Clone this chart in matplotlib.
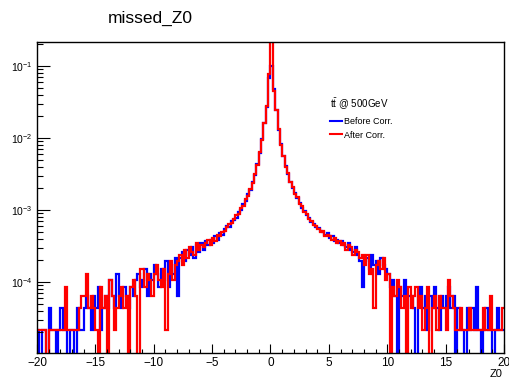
#!/usr/bin/env python3
"""missed_Z0: Z0 distribution before / after correction (log scale)."""

import numpy as np
import matplotlib
matplotlib.use("Agg")
import matplotlib.pyplot as plt
from matplotlib.lines import Line2D

plt.rcParams["font.family"] = ["Liberation Sans", "DejaVu Sans"]
plt.rcParams["mathtext.default"] = "regular"

# 200 bins of width 0.2 from -20 to 20
bin_edges = np.linspace(-20.0, 20.0, 201)

# entries per bin (one entry = per_entry on the y axis)
per_entry = 2.15e-5

before_counts = [
    # -20 .. -16
    1, 0, 1, 1, 0, 2, 1, 1, 0, 1, 2, 1, 1, 0, 1, 1, 0, 2, 1, 1,
    # -16 .. -12
    2, 3, 2, 1, 3, 2, 4, 1, 2, 3, 2, 5, 3, 2, 6, 3, 2, 4, 3, 2,
    # -12 .. -8
    4, 3, 5, 6, 4, 5, 7, 3, 6, 5, 8, 6, 4, 7, 5, 9, 4, 8, 6, 10,
    # -8 .. -4
    3, 10, 12, 9, 13, 11, 14, 10, 15, 12, 16, 13, 17, 15, 18, 16, 20, 18, 22, 21,
    # -4 .. 0
    25, 28, 27, 33, 34, 36, 43, 47, 56, 62, 77, 88, 115, 143, 205, 285, 455, 760, 1250, 3200,
    # 0 .. 4
    4700, 2200, 1150, 600, 380, 260, 190, 145, 115, 95, 80, 68, 58, 50, 45, 40, 36, 32, 30, 27,
    # 4 .. 8
    26, 24, 23, 21, 22, 19, 20, 17, 18, 16, 17, 15, 14, 16, 13, 12, 14, 11, 9, 4,
    # 8 .. 12
    9, 10, 7, 11, 8, 9, 6, 10, 8, 7, 6, 4, 5, 3, 0, 4, 3, 5, 2, 3,
    # 12 .. 16
    3, 2, 0, 3, 4, 2, 3, 1, 3, 2, 4, 2, 1, 3, 2, 3, 4, 2, 3, 0,
    # 16 .. 20
    2, 1, 1, 0, 2, 1, 2, 1, 4, 1, 0, 1, 2, 1, 1, 0, 1, 2, 1, 1,
]

after_counts = [
    # -20 .. -16
    1, 1, 1, 1, 0, 1, 1, 1, 1, 1, 1, 1, 4, 1, 1, 1, 1, 1, 2, 3,
    # -16 .. -12
    3, 6, 2, 3, 2, 1, 0, 4, 2, 3, 0, 5, 3, 1, 2, 3, 4, 2, 3, 0,
    # -12 .. -8
    4, 5, 3, 0, 7, 7, 4, 6, 5, 3, 6, 8, 5, 4, 7, 1, 6, 9, 5, 8,
    # -8 .. -4
    9, 11, 8, 13, 10, 14, 12, 11, 16, 13, 15, 14, 16, 18, 15, 19, 17, 21, 20, 23,
    # -4 .. 0
    24, 27, 30, 31, 35, 39, 41, 49, 53, 66, 73, 92, 110, 148, 198, 295, 440, 740, 1280, 3600,
    # 0 .. 4
    11000, 2100, 1120, 620, 370, 265, 185, 150, 112, 97, 78, 70, 56, 52, 44, 41, 35, 33, 29, 28,
    # 4 .. 8
    25, 23, 24, 20, 21, 20, 18, 19, 16, 17, 15, 16, 13, 15, 14, 11, 13, 12, 10, 11,
    # 8 .. 12
    8, 11, 6, 7, 2, 8, 9, 7, 10, 5, 6, 0, 4, 3, 5, 4, 2, 3, 0, 4,
    # 12 .. 16
    2, 3, 4, 2, 3, 1, 2, 4, 0, 2, 3, 1, 3, 2, 2, 1, 5, 3, 2, 1,
    # 16 .. 20
    1, 2, 1, 1, 1, 2, 1, 1, 1, 1, 1, 2, 1, 1, 3, 1, 1, 1, 1, 2,
]

x_ticks = [-20, -15, -10, -5, 0, 5, 10, 15, 20]
x_tick_labels = ["\u221220", "\u221215", "\u221210", "\u22125", "0", "5", "10", "15", "20"]
y_ticks = [1e-4, 1e-3, 1e-2, 1e-1]
y_tick_labels = [r"$10^{-4}$", r"$10^{-3}$", r"$10^{-2}$", r"$10^{-1}$"]


def to_values(counts):
    c = np.asarray(counts, dtype=float)
    # empty bins drop below the axis, as ROOT draws them
    return np.where(c > 0, c * per_entry, 1e-9)


W, H = 510, 378
fig = plt.figure(figsize=(W / 100, H / 100), dpi=100)
ax = fig.add_axes([37 / W, 1 - 353 / H, 467 / W, 311 / H])

ax.stairs(to_values(before_counts), bin_edges, color="#0000ff", lw=1.6, baseline=None)
ax.stairs(to_values(after_counts), bin_edges, color="#ff0000", lw=1.6, baseline=None)

ax.set_yscale("log")
ax.set_xlim(-20, 20)
ax.set_ylim(1.03e-5, 0.215)

ax.set_xticks(x_ticks)
ax.set_xticklabels(x_tick_labels)
ax.set_xticks(np.arange(-20, 21, 1), minor=True)
ax.set_yticks(y_ticks)
ax.set_yticklabels(y_tick_labels)

ax.tick_params(which="both", direction="in", top=False, right=False, labelsize=8.5)
ax.tick_params(axis="x", which="major", length=6.5, width=0.8, pad=3)
ax.tick_params(axis="x", which="minor", length=3.2, width=0.8)
ax.tick_params(axis="y", which="major", length=9, width=0.8, pad=3, labelsize=7.5)
ax.tick_params(axis="y", which="minor", length=4.5, width=0.8)
for sp in ax.spines.values():
    sp.set_linewidth(1.0)

fig.text(108 / W, 1 - 18 / H, "missed_Z0", fontsize=12.5, ha="left", va="center")
fig.text(503 / W, 1 - 374 / H, "Z0", fontsize=8, ha="right", va="center")

handles = [Line2D([], [], color="#0000ff", lw=1.5), Line2D([], [], color="#ff0000", lw=1.5)]
leg = ax.legend(handles, ["Before Corr.", "After Corr."],
                title=r"$t\bar{t}$ @ 500GeV", title_fontsize=7, fontsize=6.5,
                frameon=False, loc="upper left",
                bbox_to_anchor=(330 / W, 1 - 96 / H), bbox_transform=fig.transFigure,
                borderpad=0, borderaxespad=0, handlelength=1.3, handletextpad=0.3,
                labelspacing=0.55)
leg._legend_box.align = "left"

fig.savefig("out.png", dpi=100)
